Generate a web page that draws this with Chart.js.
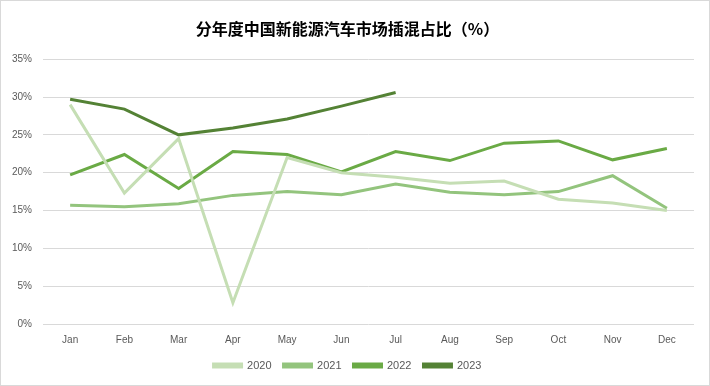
<!DOCTYPE html>
<html>
<head>
<meta charset="utf-8">
<script src="https://cdn.jsdelivr.net/npm/chart.js@4.4.0/dist/chart.umd.min.js"></script>
<style>
  html, body { margin: 0; padding: 0; background: #fff; }
  #wrap { position: absolute; left: 0; top: 0; width: 708px; height: 384px; border: 1px solid #d9d9d9; }
</style>
</head>
<body>
<div id="wrap"><canvas id="myChart" width="708" height="384"></canvas></div>
<script>
  // months on the category axis
  const months = ["Jan", "Feb", "Mar", "Apr", "May", "Jun", "Jul", "Aug", "Sep", "Oct", "Nov", "Dec"];
  const years = ["2020", "2021", "2022", "2023"];

  // PHEV share per month, %
  const share2020 = [29.0, 17.3, 24.5, 2.8, 22.0, 20.0, 19.4, 18.6, 18.9, 16.5, 16.0, 15.0];
  const share2021 = [15.7, 15.5, 15.9, 17.0, 17.5, 17.1, 18.5, 17.4, 17.1, 17.5, 19.6, 15.3];
  const share2022 = [19.7, 22.4, 17.9, 22.8, 22.4, 20.1, 22.8, 21.6, 23.9, 24.2, 21.7, 23.2];
  const share2023 = [29.7, 28.4, 25.0, 25.9, 27.1, 28.8, 30.6];

  const lineColors = ["#c5deb4", "#93c47d", "#6aaa45", "#548235"];
  const allData = [share2020, share2021, share2022, share2023];

  const ctx = document.getElementById("myChart").getContext("2d");
  const chart = new Chart(ctx, {
    type: "line",
    data: {
      labels: months,
      datasets: years.map((y, i) => ({
        label: y,
        data: allData[i],
        borderColor: lineColors[i],
        backgroundColor: lineColors[i],
        borderWidth: 3,
        pointRadius: 0,
        tension: 0,
        fill: false,
      })),
    },
    options: {
      responsive: false,
      animation: false,
      layout: { padding: { left: 0, right: 15, top: 6, bottom: 4 } },
      plugins: {
        title: {
          display: true,
          text: "分年度中国新能源汽车市场插混占比（%）",
          color: "#000",
          font: { family: "'Noto Sans CJK SC'", size: 16, weight: "bold" },
          padding: { top: 12, bottom: 21 },
        },
        legend: {
          position: "bottom",
          labels: {
            boxWidth: 28,
            boxHeight: 3,
            color: "#595959",
            font: { family: "'Liberation Sans'", size: 11 },
            padding: 12,
          },
        },
        tooltip: { enabled: false },
      },
      scales: {
        x: {
          offset: true,
          grid: { display: false },
          border: { display: false },
          ticks: {
            color: "#595959",
            font: { family: "'Liberation Sans'", size: 10 },
            padding: 2,
          },
        },
        y: {
          min: 0,
          max: 35,
          ticks: {
            stepSize: 5,
            color: "#595959",
            font: { family: "'Liberation Sans'", size: 10 },
            padding: 11,
            callback: (v) => v + "%",
          },
          grid: { color: "#d9d9d9", lineWidth: 1, drawTicks: false },
          border: { display: false },
        },
      },
    },
  });
</script>
</body>
</html>
